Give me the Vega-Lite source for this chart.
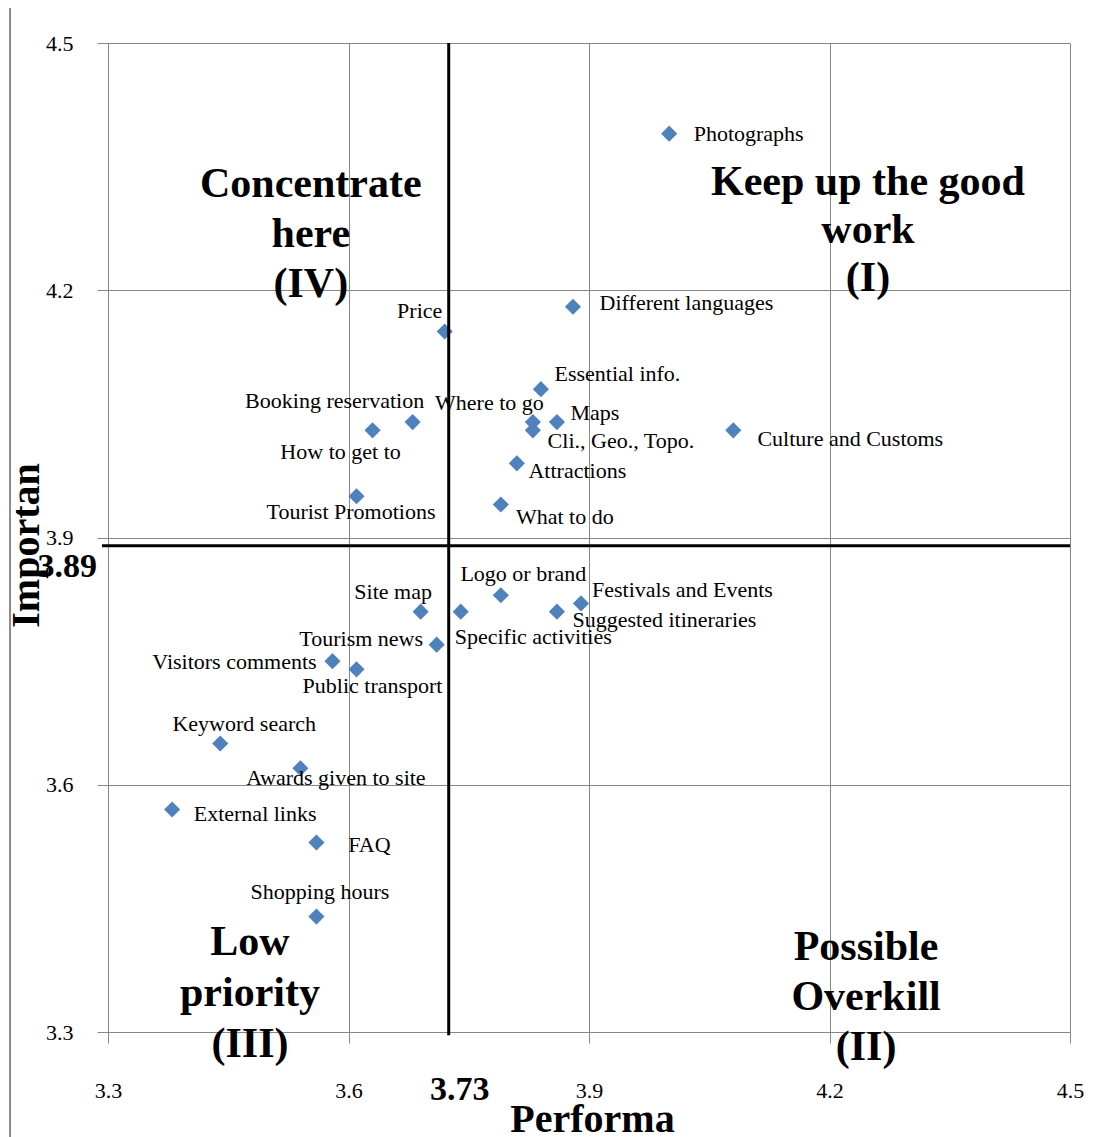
{
  "$schema": "https://vega.github.io/schema/vega-lite/v6.json",
  "width": 962,
  "height": 989,
  "autosize": "none",
  "padding": {"left": 108, "top": 43, "right": 37, "bottom": 105},
  "background": "white",
  "config": {
    "view": {"stroke": null},
    "text": {"font": "Liberation Serif", "fontSize": 22, "align": "center", "baseline": "middle", "color": "black"},
    "axis": {
      "grid": true,
      "labelFont": "Liberation Serif", "labelFontSize": 22, "labelColor": "black",
      "titleFont": "Liberation Serif", "titleFontSize": 40, "titleFontWeight": "bold", "titleColor": "black",
      "gridColor": "#878787", "gridWidth": 1, "gridOpacity": 1,
      "domainColor": "#878787", "domainWidth": 1, "tickColor": "#878787", "tickSize": 11, "tickWidth": 1,
      "labelFlush": false, "labelOverlap": false, "labelBound": false
    }
  },
  "layer": [
    {
      "data": {"values": [{}]},
      "mark": {"type": "rule", "color": "#8c8c8c", "strokeWidth": 2},
      "encoding": {
        "x": {"datum": 3.1778, "type": "quantitative", "scale": {"domain": [3.3, 4.5], "nice": false, "zero": false}},
        "y": {"datum": 4.5425, "type": "quantitative", "scale": {"domain": [3.3, 4.5], "nice": false, "zero": false}},
        "y2": {"datum": 3.17}
      }
    },
    {
      "data": {"values": [
        {"name": "Photographs", "performance": 4.00, "importance": 4.39},
        {"name": "Different languages", "performance": 3.88, "importance": 4.18},
        {"name": "Price", "performance": 3.72, "importance": 4.15},
        {"name": "Essential info.", "performance": 3.84, "importance": 4.08},
        {"name": "Booking reservation", "performance": 3.68, "importance": 4.04},
        {"name": "Where to go", "performance": 3.83, "importance": 4.04},
        {"name": "How to get to", "performance": 3.63, "importance": 4.03},
        {"name": "Maps", "performance": 3.86, "importance": 4.04},
        {"name": "Cli., Geo., Topo.", "performance": 3.83, "importance": 4.03},
        {"name": "Culture and Customs", "performance": 4.08, "importance": 4.03},
        {"name": "Attractions", "performance": 3.81, "importance": 3.99},
        {"name": "Tourist Promotions", "performance": 3.61, "importance": 3.95},
        {"name": "What to do", "performance": 3.79, "importance": 3.94},
        {"name": "Logo or brand", "performance": 3.79, "importance": 3.83},
        {"name": "Festivals and Events", "performance": 3.89, "importance": 3.82},
        {"name": "Suggested itineraries", "performance": 3.86, "importance": 3.81},
        {"name": "Site map", "performance": 3.69, "importance": 3.81},
        {"name": "Specific activities", "performance": 3.74, "importance": 3.81},
        {"name": "Tourism news", "performance": 3.71, "importance": 3.77},
        {"name": "Visitors comments", "performance": 3.58, "importance": 3.75},
        {"name": "Public transport", "performance": 3.61, "importance": 3.74},
        {"name": "Keyword search", "performance": 3.44, "importance": 3.65},
        {"name": "Awards given to site", "performance": 3.54, "importance": 3.62},
        {"name": "External links", "performance": 3.38, "importance": 3.57},
        {"name": "FAQ", "performance": 3.56, "importance": 3.53},
        {"name": "Shopping hours", "performance": 3.56, "importance": 3.44}
      ]},
      "encoding": {
        "x": {"field": "performance", "type": "quantitative",
              "scale": {"domain": [3.3, 4.5], "nice": false, "zero": false},
              "axis": {"title": "Performa", "grid": true, "values": [3.3, 3.6, 3.9, 4.2, 4.5], "format": ".1f",
                       "labelBaseline": "middle", "labelPadding": 47,
                       "titleX": 484, "titleY": 99, "titleBaseline": "alphabetic", "titleAlign": "center"}},
        "y": {"field": "importance", "type": "quantitative",
              "scale": {"domain": [3.3, 4.5], "nice": false, "zero": false},
              "axis": {"title": "Importan", "grid": true, "values": [3.3, 3.6, 3.9, 4.2, 4.5], "format": ".1f",
                       "labelPadding": 24,
                       "titleX": -70, "titleY": 502, "titleAngle": -90, "titleBaseline": "alphabetic", "titleAlign": "center"}}
      },
      "layer": [
        {"mark": {"type": "point", "shape": "diamond", "filled": true, "color": "#4F81BD", "size": 260, "opacity": 1}},
        {"transform": [{"filter": "datum.name === 'Photographs'"}], "mark": {"type": "text", "dx": 79.5, "dy": 0}, "encoding": {"text": {"field": "name"}}},
        {"transform": [{"filter": "datum.name === 'Different languages'"}], "mark": {"type": "text", "dx": 113.5, "dy": -4}, "encoding": {"text": {"field": "name"}}},
        {"transform": [{"filter": "datum.name === 'Price'"}], "mark": {"type": "text", "dx": -25, "dy": -20}, "encoding": {"text": {"field": "name"}}},
        {"transform": [{"filter": "datum.name === 'Essential info.'"}], "mark": {"type": "text", "dx": 76.5, "dy": -15}, "encoding": {"text": {"field": "name"}}},
        {"transform": [{"filter": "datum.name === 'Booking reservation'"}], "mark": {"type": "text", "dx": -78, "dy": -21}, "encoding": {"text": {"field": "name"}}},
        {"transform": [{"filter": "datum.name === 'Where to go'"}], "mark": {"type": "text", "dx": -43.5, "dy": -19}, "encoding": {"text": {"field": "name"}}},
        {"transform": [{"filter": "datum.name === 'How to get to'"}], "mark": {"type": "text", "dx": -32, "dy": 22}, "encoding": {"text": {"field": "name"}}},
        {"transform": [{"filter": "datum.name === 'Maps'"}], "mark": {"type": "text", "dx": 38, "dy": -9}, "encoding": {"text": {"field": "name"}}},
        {"transform": [{"filter": "datum.name === 'Cli., Geo., Topo.'"}], "mark": {"type": "text", "dx": 88, "dy": 11}, "encoding": {"text": {"field": "name"}}},
        {"transform": [{"filter": "datum.name === 'Culture and Customs'"}], "mark": {"type": "text", "dx": 117, "dy": 9}, "encoding": {"text": {"field": "name"}}},
        {"transform": [{"filter": "datum.name === 'Attractions'"}], "mark": {"type": "text", "dx": 60.5, "dy": 8}, "encoding": {"text": {"field": "name"}}},
        {"transform": [{"filter": "datum.name === 'Tourist Promotions'"}], "mark": {"type": "text", "dx": -5.5, "dy": 16}, "encoding": {"text": {"field": "name"}}},
        {"transform": [{"filter": "datum.name === 'What to do'"}], "mark": {"type": "text", "dx": 64, "dy": 12}, "encoding": {"text": {"field": "name"}}},
        {"transform": [{"filter": "datum.name === 'Logo or brand'"}], "mark": {"type": "text", "dx": 22.5, "dy": -21}, "encoding": {"text": {"field": "name"}}},
        {"transform": [{"filter": "datum.name === 'Festivals and Events'"}], "mark": {"type": "text", "dx": 101.5, "dy": -13}, "encoding": {"text": {"field": "name"}}},
        {"transform": [{"filter": "datum.name === 'Suggested itineraries'"}], "mark": {"type": "text", "dx": 107.5, "dy": 8}, "encoding": {"text": {"field": "name"}}},
        {"transform": [{"filter": "datum.name === 'Site map'"}], "mark": {"type": "text", "dx": -27.5, "dy": -20}, "encoding": {"text": {"field": "name"}}},
        {"transform": [{"filter": "datum.name === 'Specific activities'"}], "mark": {"type": "text", "dx": 72.5, "dy": 25}, "encoding": {"text": {"field": "name"}}},
        {"transform": [{"filter": "datum.name === 'Tourism news'"}], "mark": {"type": "text", "dx": -75.5, "dy": -6}, "encoding": {"text": {"field": "name"}}},
        {"transform": [{"filter": "datum.name === 'Visitors comments'"}], "mark": {"type": "text", "dx": -98, "dy": 1}, "encoding": {"text": {"field": "name"}}},
        {"transform": [{"filter": "datum.name === 'Public transport'"}], "mark": {"type": "text", "dx": 16, "dy": 17}, "encoding": {"text": {"field": "name"}}},
        {"transform": [{"filter": "datum.name === 'Keyword search'"}], "mark": {"type": "text", "dx": 24, "dy": -20}, "encoding": {"text": {"field": "name"}}},
        {"transform": [{"filter": "datum.name === 'Awards given to site'"}], "mark": {"type": "text", "dx": 35.5, "dy": 10}, "encoding": {"text": {"field": "name"}}},
        {"transform": [{"filter": "datum.name === 'External links'"}], "mark": {"type": "text", "dx": 83, "dy": 5}, "encoding": {"text": {"field": "name"}}},
        {"transform": [{"filter": "datum.name === 'FAQ'"}], "mark": {"type": "text", "dx": 53, "dy": 3}, "encoding": {"text": {"field": "name"}}},
        {"transform": [{"filter": "datum.name === 'Shopping hours'"}], "mark": {"type": "text", "dx": 3.5, "dy": -25}, "encoding": {"text": {"field": "name"}}}
      ]
    },
    {
      "data": {"values": [{}]},
      "mark": {"type": "rule", "color": "black", "strokeWidth": 3},
      "encoding": {
        "x": {"datum": 3.725, "type": "quantitative", "scale": {"domain": [3.3, 4.5], "nice": false, "zero": false}},
        "y": {"datum": 4.5, "type": "quantitative", "scale": {"domain": [3.3, 4.5], "nice": false, "zero": false}},
        "y2": {"datum": 3.296}
      }
    },
    {
      "data": {"values": [{}]},
      "mark": {"type": "rule", "color": "black", "strokeWidth": 3},
      "encoding": {
        "y": {"datum": 3.89, "type": "quantitative", "scale": {"domain": [3.3, 4.5], "nice": false, "zero": false}},
        "x": {"datum": 3.2925, "type": "quantitative", "scale": {"domain": [3.3, 4.5], "nice": false, "zero": false}},
        "x2": {"datum": 4.5}
      }
    },
    {
      "data": {"values": [{}]},
      "mark": {"type": "text", "text": "3.89", "fontSize": 34, "fontWeight": "bold", "align": "right", "baseline": "middle", "dx": -11, "dy": 21},
      "encoding": {
        "x": {"datum": 3.3, "type": "quantitative", "scale": {"domain": [3.3, 4.5], "nice": false, "zero": false}},
        "y": {"datum": 3.89, "type": "quantitative", "scale": {"domain": [3.3, 4.5], "nice": false, "zero": false}}
      }
    },
    {
      "data": {"values": [{}]},
      "mark": {"type": "text", "text": "3.73", "fontSize": 34, "fontWeight": "bold", "align": "center", "baseline": "middle", "dx": 11, "dy": 58},
      "encoding": {
        "x": {"datum": 3.725, "type": "quantitative", "scale": {"domain": [3.3, 4.5], "nice": false, "zero": false}},
        "y": {"datum": 3.3, "type": "quantitative", "scale": {"domain": [3.3, 4.5], "nice": false, "zero": false}}
      }
    },
    {
      "data": {"values": [{}]},
      "mark": {"type": "text", "text": ["Concentrate", "here", "(IV)"], "fontSize": 42, "fontWeight": "bold", "align": "center", "baseline": "alphabetic", "lineHeight": 50},
      "encoding": {
        "x": {"datum": 3.553, "type": "quantitative", "scale": {"domain": [3.3, 4.5], "nice": false, "zero": false}},
        "y": {"datum": 4.313, "type": "quantitative", "scale": {"domain": [3.3, 4.5], "nice": false, "zero": false}}
      }
    },
    {
      "data": {"values": [{}]},
      "mark": {"type": "text", "text": ["Keep up the good", "work", "(I)"], "fontSize": 42, "fontWeight": "bold", "align": "center", "baseline": "alphabetic", "lineHeight": 48},
      "encoding": {
        "x": {"datum": 4.248, "type": "quantitative", "scale": {"domain": [3.3, 4.5], "nice": false, "zero": false}},
        "y": {"datum": 4.3156, "type": "quantitative", "scale": {"domain": [3.3, 4.5], "nice": false, "zero": false}}
      }
    },
    {
      "data": {"values": [{}]},
      "mark": {"type": "text", "text": ["Low", "priority", "(III)"], "fontSize": 42, "fontWeight": "bold", "align": "center", "baseline": "alphabetic", "lineHeight": 51},
      "encoding": {
        "x": {"datum": 3.4771, "type": "quantitative", "scale": {"domain": [3.3, 4.5], "nice": false, "zero": false}},
        "y": {"datum": 3.3935, "type": "quantitative", "scale": {"domain": [3.3, 4.5], "nice": false, "zero": false}}
      }
    },
    {
      "data": {"values": [{}]},
      "mark": {"type": "text", "text": ["Possible", "Overkill", "(II)"], "fontSize": 42, "fontWeight": "bold", "align": "center", "baseline": "alphabetic", "lineHeight": 50},
      "encoding": {
        "x": {"datum": 4.2456, "type": "quantitative", "scale": {"domain": [3.3, 4.5], "nice": false, "zero": false}},
        "y": {"datum": 3.3874, "type": "quantitative", "scale": {"domain": [3.3, 4.5], "nice": false, "zero": false}}
      }
    }
  ]
}
